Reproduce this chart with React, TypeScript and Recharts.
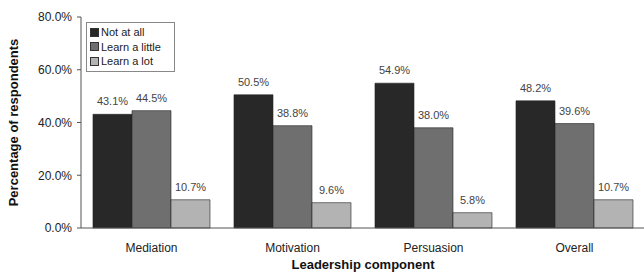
import React from 'react';
import { BarChart, Bar, XAxis, YAxis, LabelList, Label } from 'recharts';

const categories = ['Mediation', 'Motivation', 'Persuasion', 'Overall'];
const notAtAll = [43.1, 50.5, 54.9, 48.2];
const learnLittle = [44.5, 38.8, 38.0, 39.6];
const learnLot = [10.7, 9.6, 5.8, 10.7];
const yTicks = [0, 20, 40, 60, 80];

const seriesNames = ['Not at all', 'Learn a little', 'Learn a lot'];
const colors = ['#282828', '#6f6f6f', '#b3b3b3'];

const data = categories.map((c, i) => ({
  name: c,
  a: notAtAll[i],
  b: learnLittle[i],
  c: learnLot[i],
}));

const font = 'Arial, "Liberation Sans", sans-serif';

const LegendBox = () => (
  <div
    style={{
      position: 'absolute',
      left: 86,
      top: 22,
      border: '1px solid #888',
      background: '#fff',
      padding: '2px 5px 2px 3px',
      fontFamily: font,
      fontSize: 11,
      color: '#222',
      lineHeight: '14.5px',
      width: 79,
    }}
  >
    {seriesNames.map((n, i) => (
      <div key={n} style={{ display: 'flex', alignItems: 'center' }}>
        <span
          style={{
            display: 'inline-block',
            width: 7,
            height: 7,
            background: colors[i],
            border: '1px solid #333',
            marginRight: 2,
          }}
        />
        {n}
      </div>
    ))}
  </div>
);

const XTick = (props: any) => {
  const { x, y, payload } = props;
  return (
    <text x={x} y={y + 16} textAnchor="middle" fontFamily={font} fontSize={12} fill="#222">
      {payload.value}
    </text>
  );
};

export default function App() {
  return (
    <div style={{ position: 'absolute', left: 0, top: 0, width: 644, height: 275, background: '#fff' }}>
      <BarChart
        width={644}
        height={275}
        data={data}
        margin={{ top: 17, right: -1, left: 0, bottom: 6 }}
        barGap={0}
        barCategoryGap="8.5%"
      >
        <XAxis
          dataKey="name"
          height={41}
          axisLine={{ stroke: '#555' }}
          tickLine={false}
          tick={<XTick />}
          interval={0}
        >
          <Label
            value="Leadership component"
            position="insideBottom"
            offset={0}
            style={{ fontFamily: font, fontSize: 13, fontWeight: 'bold', fill: '#111' }}
          />
        </XAxis>
        <YAxis
          width={81}
          domain={[0, 80]}
          ticks={yTicks}
          tickFormatter={(v: number) => v.toFixed(1) + '%'}
          axisLine={{ stroke: '#555' }}
          tickLine={{ stroke: '#555' }}
          tickSize={4}
          tick={{ fontFamily: font, fontSize: 12, fill: '#222', dx: -3 }}
        >
          <Label
            value="Percentage of respondents"
            angle={-90}
            position="insideLeft"
            offset={13}
            style={{ fontFamily: font, fontSize: 13, fontWeight: 'bold', fill: '#111', textAnchor: 'middle' }}
          />
        </YAxis>
        {(['a', 'b', 'c'] as const).map((k, i) => (
          <Bar
            key={k}
            dataKey={k}
            name={seriesNames[i]}
            fill={colors[i]}
            stroke="#222"
            strokeWidth={0.6}
            isAnimationActive={false}
          >
            <LabelList
              dataKey={k}
              position="top"
              offset={9}
              formatter={(v: any) => Number(v).toFixed(1) + '%'}
              style={{ fontFamily: font, fontSize: 11, fill: '#444' }}
            />
          </Bar>
        ))}
      </BarChart>
      <LegendBox />
    </div>
  );
}
